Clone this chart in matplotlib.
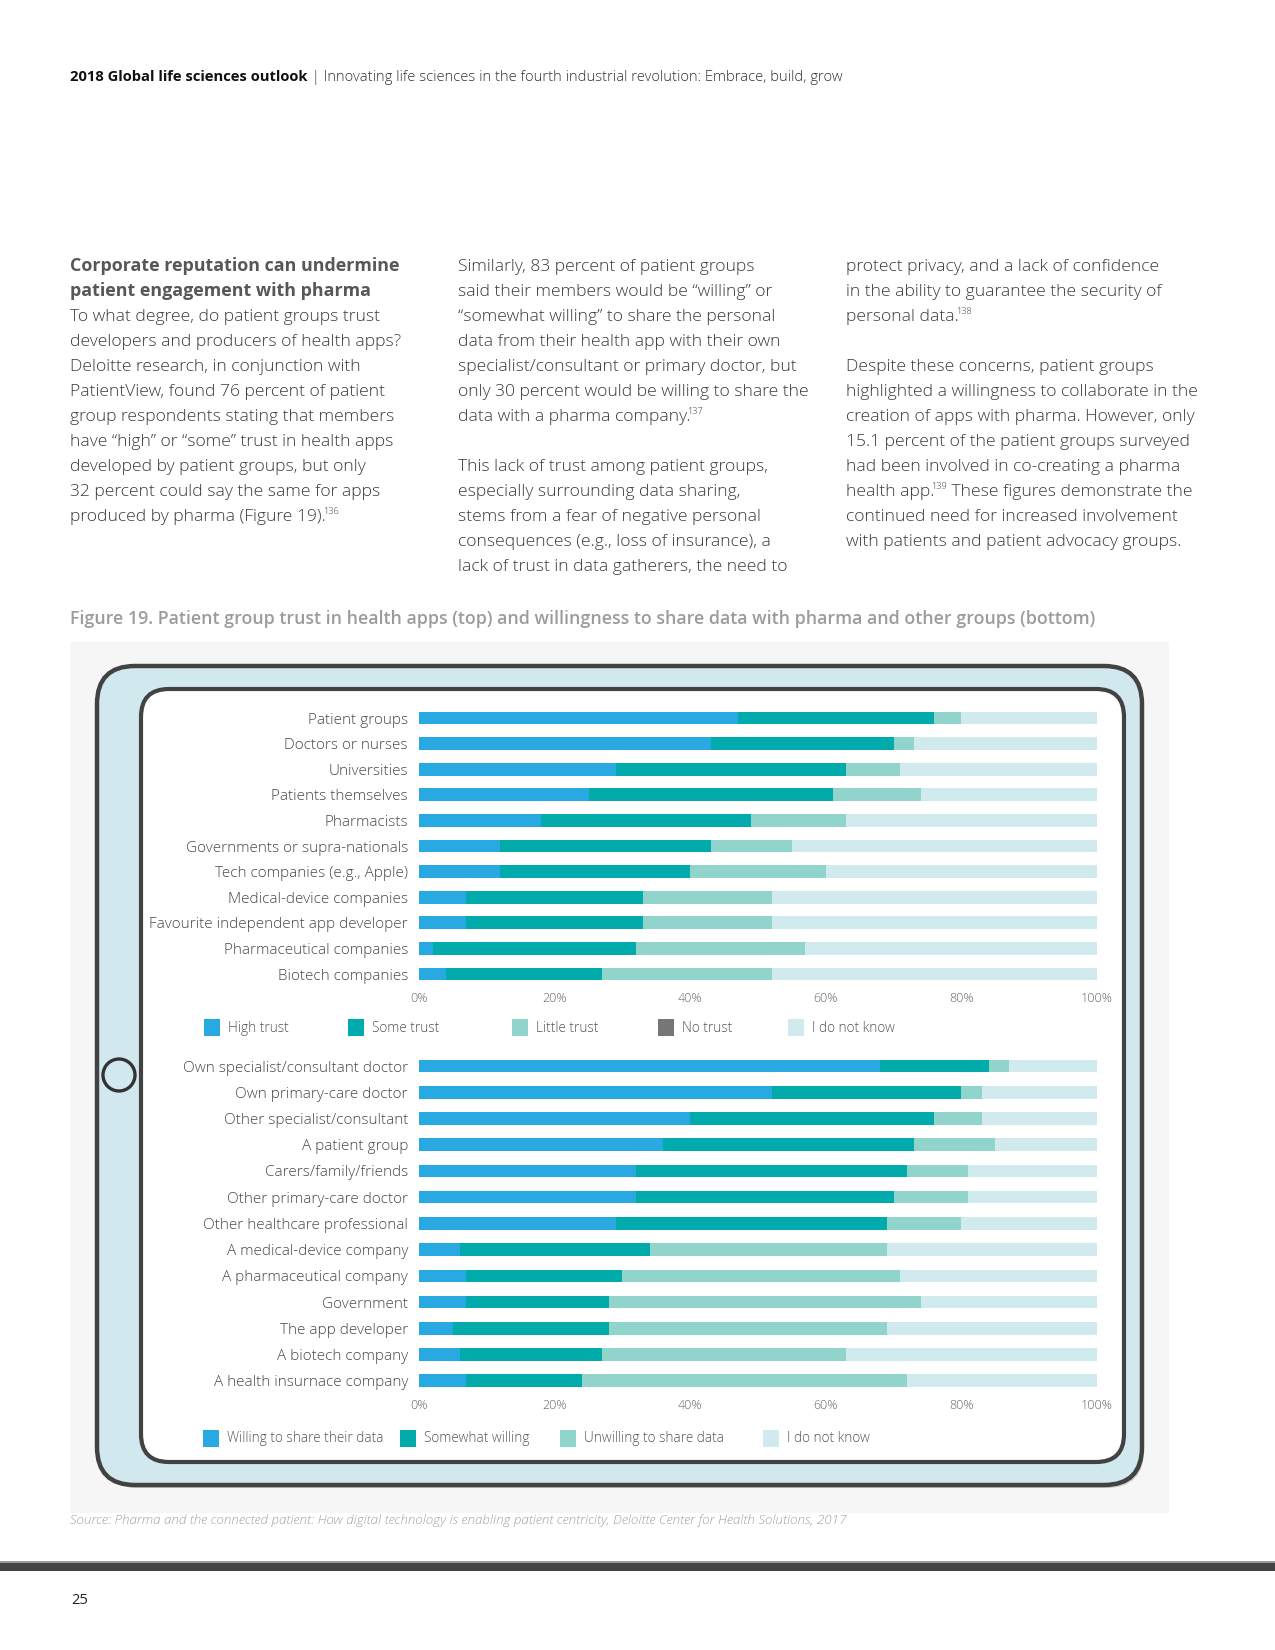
import re
import matplotlib
matplotlib.use("Agg")
import matplotlib.pyplot as plt
from matplotlib.patches import FancyBboxPatch, Rectangle, Circle

plt.rcParams['font.family'] = ['Open Sans', 'DejaVu Sans']

W, H = 1275, 1650

# ---- top chart: trust in health apps, by developer (percent) ----
trust_groups = ['Patient groups', 'Doctors or nurses', 'Universities', 'Patients themselves',
                'Pharmacists', 'Governments or supra-nationals', 'Tech companies (e.g., Apple)',
                'Medical-device companies', 'Favourite independent app developer',
                'Pharmaceutical companies', 'Biotech companies']
high_trust = [47, 43, 29, 25, 18, 12, 12, 7, 7, 2, 4]
some_trust = [29, 27, 34, 36, 31, 31, 28, 26, 26, 30, 23]
little_trust = [4, 3, 8, 13, 14, 12, 20, 19, 19, 25, 25]
no_trust = [0, 0, 0, 0, 0, 0, 0, 0, 0, 0, 0]
unknown_trust = [20, 27, 29, 26, 37, 45, 40, 48, 48, 43, 48]
trust_legend = ['High trust', 'Some trust', 'Little trust', 'No trust', 'I do not know']

# ---- bottom chart: willingness to share data (percent) ----
share_groups = ['Own specialist/consultant doctor', 'Own primary-care doctor',
                'Other specialist/consultant', 'A patient group', 'Carers/family/friends',
                'Other primary-care doctor', 'Other healthcare professional',
                'A medical-device company', 'A pharmaceutical company', 'Government',
                'The app developer', 'A biotech company', 'A health insurnace company']
willing = [68, 52, 40, 36, 32, 32, 29, 6, 7, 7, 5, 6, 7]
somewhat = [16, 28, 36, 37, 40, 38, 40, 28, 23, 21, 23, 21, 17]
unwilling = [3, 3, 7, 12, 9, 11, 11, 35, 41, 46, 41, 36, 48]
unknown_share = [13, 17, 17, 15, 19, 19, 20, 31, 29, 26, 31, 37, 28]
share_legend = ['Willing to share their data', 'Somewhat willing', 'Unwilling to share data',
                'I do not know']

ticks = [0, 20, 40, 60, 80, 100]

BLUE, TEAL, MINT, GREY, PALE = '#29a9e1', '#02abab', '#91d4cc', '#767676', '#d1eaee'
FRAME = '#424242'
BODY = '#3b3b3b'

col1 = ['**Corporate reputation can undermine', '**patient engagement with pharma',
        'To what degree, do patient groups trust',
        'developers and producers of health apps?',
        'Deloitte research, in conjunction with',
        'PatientView, found 76 percent of patient',
        'group respondents stating that members',
        'have \u201chigh\u201d or \u201csome\u201d trust in health apps',
        'developed by patient groups, but only',
        '32 percent could say the same for apps',
        'produced by pharma (Figure 19).^136']
col2 = ['Similarly, 83 percent of patient groups',
        'said their members would be \u201cwilling\u201d or',
        '\u201csomewhat willing\u201d to share the personal',
        'data from their health app with their own',
        'specialist/consultant or primary doctor, but',
        'only 30 percent would be willing to share the',
        'data with a pharma company.^137',
        '',
        'This lack of trust among patient groups,',
        'especially surrounding data sharing,',
        'stems from a fear of negative personal',
        'consequences (e.g., loss of insurance), a',
        'lack of trust in data gatherers, the need to']
col3 = ['protect privacy, and a lack of confidence',
        'in the ability to guarantee the security of',
        'personal data.^138',
        '',
        'Despite these concerns, patient groups',
        'highlighted a willingness to collaborate in the',
        'creation of apps with pharma. However, only',
        '15.1 percent of the patient groups surveyed',
        'had been involved in co-creating a pharma',
        'health app.^139 These figures demonstrate the',
        'continued need for increased involvement',
        'with patients and patient advocacy groups.']

fig = plt.figure(figsize=(W / 100, H / 100), dpi=100)
renderer = fig.canvas.get_renderer()

# page-level drawing layer in pixel coordinates
bg = fig.add_axes([0, 0, 1, 1])
bg.set_xlim(0, W)
bg.set_ylim(H, 0)
bg.axis('off')


def run_text(x, y, parts):
    """Write text pieces one after another on the same baseline."""
    for s, kw in parts:
        t = fig.text(x / W, 1 - y / H, s, va='baseline', ha='left', **kw)
        x += t.get_window_extent(renderer=renderer).width


def body_line(x, y, line):
    if line.startswith('**'):
        run_text(x, y, [(line[2:], dict(fontsize=12.85, weight='bold', color='#575757'))])
        return
    xx = x
    for i, piece in enumerate(re.split(r'\^(\d+)', line)):
        if not piece:
            continue
        if i % 2 == 0:
            t = fig.text(xx / W, 1 - y / H, piece, va='baseline', ha='left',
                         fontsize=12.6, weight='light', color=BODY)
            xx += t.get_window_extent(renderer=renderer).width
        else:
            # footnote marker
            xx -= 3
            t = fig.text(xx / W, 1 - (y - 7) / H, piece, va='baseline', ha='left',
                         fontsize=6.6, weight='light', color=BODY)
            xx += t.get_window_extent(renderer=renderer).width


# header
run_text(70, 81, [('2018 Global life sciences outlook', dict(fontsize=10.65, weight='bold', color='#111111')),
                  (' | Innovating life sciences in the fourth industrial revolution: Embrace, build, grow',
                   dict(fontsize=10.65, weight='light', color='#333333'))])

# body columns
for cx, lines in [(70, col1), (458, col2), (846, col3)]:
    for i, ln in enumerate(lines):
        if ln:
            body_line(cx, 271 + i * 25.0, ln)

# figure title
run_text(70, 624, [('Figure 19. Patient group trust in health apps (top) and willingness to share data '
                    'with pharma and other groups (bottom)',
                    dict(fontsize=12.8, weight='semibold', color='#9b9b9b'))])

# grey panel + tablet
bg.add_patch(Rectangle((70, 642), 1099, 871, fc='#f6f6f6', ec='none'))
bg.add_patch(FancyBboxPatch((99, 669), 1045, 819, boxstyle='round,pad=0,rounding_size=38',
                            fc='#c9c9c9', ec='none'))
bg.add_patch(FancyBboxPatch((97, 666), 1045, 819, boxstyle='round,pad=0,rounding_size=38',
                            fc='#d1e9ee', ec=FRAME, lw=3.2))
bg.add_patch(FancyBboxPatch((142, 691), 983, 773, boxstyle='round,pad=0,rounding_size=28',
                            fc='#bdbdbd', ec='none'))
bg.add_patch(FancyBboxPatch((141, 689), 983, 773, boxstyle='round,pad=0,rounding_size=28',
                            fc='white', ec=FRAME, lw=3.0))
bg.add_patch(Circle((119, 1075), 16, fc='none', ec='#333333', lw=2.4))


def stacked_chart(top, bottom, labels, series, colors, bar_h):
    ax = fig.add_axes([419 / W, 1 - bottom / H, (1097 - 419) / W, (bottom - top) / H])
    ax.set_facecolor('none')
    rows = list(range(len(labels)))
    left = [0] * len(labels)
    for vals, c in zip(series, colors):
        ax.barh(rows, vals, left=left, height=bar_h, color=c, linewidth=0)
        left = [a + b for a, b in zip(left, vals)]
    ax.set_xlim(0, 100)
    ax.set_ylim(len(labels) - 0.5, -0.5)
    ax.set_yticks(rows)
    ax.set_yticklabels(labels, fontsize=10.95, color='#4a4a4a', weight='light')
    ax.set_xticks(ticks)
    ax.set_xticklabels([f'{t}%' for t in ticks], fontsize=9, color='#666666', weight='light')
    ax.tick_params(axis='y', length=0, pad=8)
    ax.tick_params(axis='x', length=0, pad=4)
    for s in ax.spines.values():
        s.set_visible(False)
    return ax


stacked_chart(705.2, 986.8, trust_groups,
              [high_trust, some_trust, little_trust, no_trust, unknown_trust],
              [BLUE, TEAL, MINT, GREY, PALE], 0.5)
stacked_chart(1052.9, 1393.8, share_groups,
              [willing, somewhat, unwilling, unknown_share],
              [BLUE, TEAL, MINT, PALE], 0.48)


def legend_row(y, names, colors, xs):
    for name, c, x in zip(names, colors, xs):
        bg.add_patch(Rectangle((x, y - 8), 16, 17, fc=c, ec='none'))
        bg.text(x + 24, y + 1, name, va='center', ha='left', fontsize=9.8,
                color='#555555', weight='light')


legend_row(1027, trust_legend, [BLUE, TEAL, MINT, GREY, PALE], [204, 348, 512, 658, 788])
legend_row(1438, share_legend, [BLUE, TEAL, MINT, PALE], [203, 400, 560, 763])

# source + footer
fig.text(70 / W, 1 - 1524 / H, 'Source: Pharma and the connected patient: How digital technology is '
         'enabling patient centricity, Deloitte Center for Health Solutions, 2017',
         fontsize=9.6, style='italic', weight='light', color='#a0a0a0', va='baseline')
bg.add_patch(Rectangle((0, 1561), W, 1.5, fc='#9a9a9a', ec='none'))
bg.add_patch(Rectangle((0, 1562.5), W, 8.5, fc='#434343', ec='none'))
fig.text(71 / W, 1 - 1604 / H, '25', fontsize=10.5, color='#222222', va='baseline')

fig.savefig('out.png', dpi=100)
